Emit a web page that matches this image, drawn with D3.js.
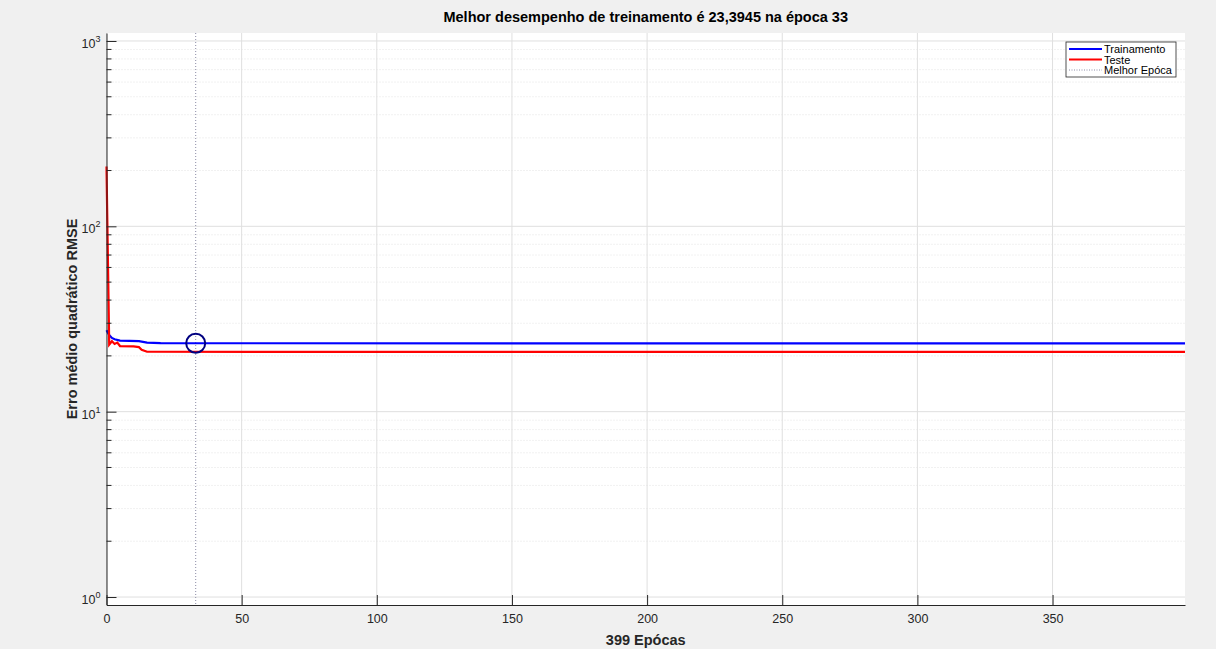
<!DOCTYPE html>
<html>
<head>
<meta charset="utf-8">
<script src="https://cdn.jsdelivr.net/npm/d3@7"></script>
<style>
  body { margin: 0; background: #f0f0f0; }
  svg { display: block; font-family: "Liberation Sans", Arial, sans-serif; }
</style>
</head>
<body>
<div class="chart"></div>
<script>
// values (breakpoints of the curves)
var trainEpochs = [0, 1, 2, 3, 5, 12, 15, 20, 33, 399];
var trainValues = [27.5, 25.9, 25.0, 24.6, 24.2, 24.0, 23.6, 23.45, 23.3945, 23.38];

var testEpochs = [0, 1, 2, 3, 4, 5, 10, 12, 13, 15, 399];
var testValues = [210, 23.0, 24.0, 23.2, 23.6, 22.6, 22.5, 22.3, 21.6, 21.05, 21.0];

var bestEpoch = 33;
var bestValue = 23.3945;

var xTicks = [0, 50, 100, 150, 200, 250, 300, 350];
var yMajor = [1, 10, 100, 1000];
var yExp = [0, 1, 2, 3];

var legendNames = ["Trainamento", "Teste", "Melhor Epóca"];

var svgWidth = 1216;
var svgHeight = 649;

var margin = { top: 33, right: 31, bottom: 44, left: 106.5 };
var width = svgWidth - margin.left - margin.right;
var height = svgHeight - margin.top - margin.bottom;

var svg = d3.select(".chart")
  .append("svg")
  .attr("width", svgWidth)
  .attr("height", svgHeight);

svg.append("rect")
  .attr("width", svgWidth)
  .attr("height", svgHeight)
  .attr("fill", "#f0f0f0");

var chartGroup = svg.append("g")
  .attr("transform", `translate(${margin.left}, ${margin.top})`);

var xScale = d3.scaleLinear()
  .domain([0, 399])
  .range([0, width]);

var yScale = d3.scaleLog()
  .domain([Math.pow(10, -0.043), Math.pow(10, 3.043)])
  .range([height, 0]);

// plot background
chartGroup.append("rect")
  .attr("width", width)
  .attr("height", height)
  .attr("fill", "white");

// minor y grid (2..9 of each decade)
var yMinor = [];
yMajor.forEach(function(m) {
  for (var k = 2; k <= 9; k++) {
    var v = m * k;
    if (v < yScale.domain()[1]) yMinor.push(v);
  }
});

chartGroup.selectAll(".ygrid-minor")
  .data(yMinor)
  .enter()
  .append("line")
  .attr("x1", 0)
  .attr("x2", width)
  .attr("y1", d => yScale(d))
  .attr("y2", d => yScale(d))
  .attr("stroke", "#e3e3e3")
  .attr("stroke-width", 1)
  .attr("stroke-dasharray", "1,2");

chartGroup.selectAll(".ygrid-major")
  .data(yMajor)
  .enter()
  .append("line")
  .attr("x1", 0)
  .attr("x2", width)
  .attr("y1", d => yScale(d))
  .attr("y2", d => yScale(d))
  .attr("stroke", "#dfdfdf")
  .attr("stroke-width", 1);

chartGroup.selectAll(".xgrid")
  .data(xTicks)
  .enter()
  .append("line")
  .attr("x1", d => xScale(d))
  .attr("x2", d => xScale(d))
  .attr("y1", 0)
  .attr("y2", height)
  .attr("stroke", "#dfdfdf")
  .attr("stroke-width", 1);

// best epoch vertical line
chartGroup.append("line")
  .attr("x1", xScale(bestEpoch))
  .attr("x2", xScale(bestEpoch))
  .attr("y1", 0)
  .attr("y2", height)
  .attr("stroke", "#8c8ca6")
  .attr("stroke-width", 1)
  .attr("stroke-dasharray", "1,2");

var line = d3.line()
  .x(d => xScale(d[0]))
  .y(d => yScale(d[1]));

var trainData = trainEpochs.map((e, i) => [e, trainValues[i]]);
var testData = testEpochs.map((e, i) => [e, testValues[i]]);

chartGroup.append("path")
  .datum(trainData)
  .attr("d", line)
  .attr("fill", "none")
  .attr("stroke", "#0000ff")
  .attr("stroke-width", 2.2);

chartGroup.append("path")
  .datum(testData)
  .attr("d", line)
  .attr("fill", "none")
  .attr("stroke", "#ff0000")
  .attr("stroke-width", 2.2);

// best point circle
chartGroup.append("circle")
  .attr("cx", xScale(bestEpoch))
  .attr("cy", yScale(bestValue))
  .attr("r", 9.5)
  .attr("fill", "none")
  .attr("stroke", "#000080")
  .attr("stroke-width", 2);

// axes (only left and bottom, ticks inward)
var bottomAxis = d3.axisBottom(xScale)
  .tickValues(xTicks)
  .tickSizeInner(-10)
  .tickSizeOuter(0)
  .tickPadding(9)
  .tickFormat(d3.format("d"));

var xAxis = chartGroup.append("g")
  .attr("transform", `translate(0, ${height})`)
  .call(bottomAxis);

xAxis.select(".domain").attr("stroke", "#262626");
xAxis.selectAll(".tick line").attr("stroke", "#262626");
xAxis.selectAll(".tick text")
  .attr("fill", "#262626")
  .style("font-size", "12.5px");

var leftAxis = d3.axisLeft(yScale)
  .tickValues(yMajor)
  .tickSizeInner(-10)
  .tickSizeOuter(0)
  .tickFormat("");

var yAxis = chartGroup.append("g")
  .call(leftAxis);

yAxis.select(".domain").attr("stroke", "#262626");
yAxis.selectAll(".tick line").attr("stroke", "#262626");

// minor ticks on left axis
chartGroup.selectAll(".yminor-tick")
  .data(yMinor)
  .enter()
  .append("line")
  .attr("x1", 0)
  .attr("x2", 5)
  .attr("y1", d => yScale(d))
  .attr("y2", d => yScale(d))
  .attr("stroke", "#262626");

// y tick labels 10^n
var yLabels = chartGroup.selectAll(".ylab")
  .data(yMajor)
  .enter()
  .append("text")
  .attr("x", -6)
  .attr("y", d => yScale(d) + 7)
  .attr("text-anchor", "end")
  .attr("fill", "#262626")
  .style("font-size", "12.5px");

yLabels.append("tspan").text("10");
yLabels.append("tspan")
  .attr("dy", -6)
  .style("font-size", "9px")
  .text((d, i) => yExp[i]);

// title and axis labels
svg.append("text")
  .attr("x", margin.left + width / 2)
  .attr("y", 22)
  .attr("text-anchor", "middle")
  .attr("fill", "#000")
  .style("font-size", "14.5px")
  .style("font-weight", "bold")
  .text("Melhor desempenho de treinamento é 23,3945 na época 33");

svg.append("text")
  .attr("x", margin.left + width / 2)
  .attr("y", 645)
  .attr("text-anchor", "middle")
  .attr("fill", "#262626")
  .style("font-size", "14.5px")
  .style("font-weight", "bold")
  .text("399 Epócas");

svg.append("text")
  .attr("transform", `translate(77, ${margin.top + height / 2}) rotate(-90)`)
  .attr("text-anchor", "middle")
  .attr("fill", "#262626")
  .style("font-size", "14.5px")
  .style("font-weight", "bold")
  .text("Erro médio quadrático RMSE");

// legend
var legend = svg.append("g")
  .attr("transform", "translate(1066, 42)");

legend.append("rect")
  .attr("width", 110)
  .attr("height", 35)
  .attr("fill", "white")
  .attr("stroke", "#262626")
  .attr("stroke-width", 0.8);

var legendStyles = [
  { color: "#0000ff", width: 2, dash: null },
  { color: "#ff0000", width: 2, dash: null },
  { color: "#8c8ca6", width: 1, dash: "1,1.5" }
];

legendNames.forEach(function(name, i) {
  var ly = 7 + i * 10.5;
  legend.append("line")
    .attr("x1", 3)
    .attr("x2", 36)
    .attr("y1", ly)
    .attr("y2", ly)
    .attr("stroke", legendStyles[i].color)
    .attr("stroke-width", legendStyles[i].width)
    .attr("stroke-dasharray", legendStyles[i].dash);
  legend.append("text")
    .attr("x", 38)
    .attr("y", ly + 4)
    .attr("fill", "#000")
    .style("font-size", "11px")
    .text(name);
});
</script>
</body>
</html>
